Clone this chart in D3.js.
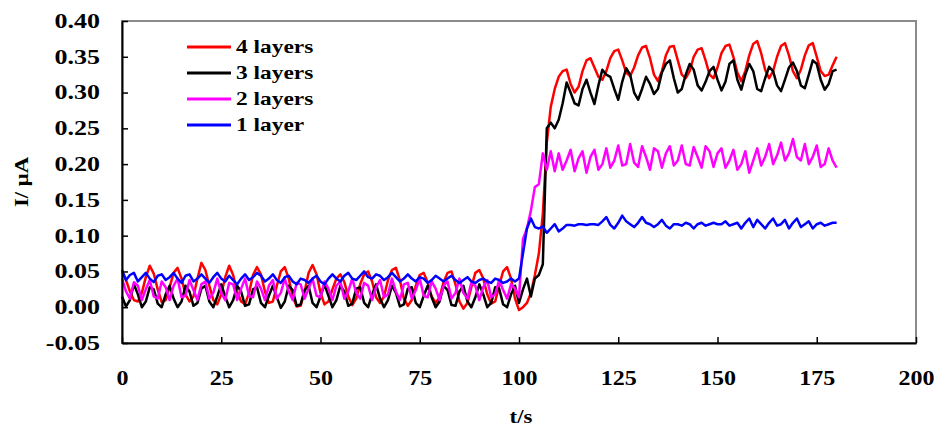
<!DOCTYPE html>
<html lang="en">
<head>
<meta charset="utf-8">
<title>Current vs time, layered films</title>
<script src="https://d3js.org/d3.v7.min.js"></script>
<style>
  body { margin: 0; background: #fff; }
  svg { display: block; }
  .tick text, .lbl { font-family: "Liberation Serif", "Times New Roman", serif; font-weight: bold; fill: #000; }
</style>
</head>
<body>
<svg id="chart" width="938" height="429"></svg>
<script>
// sampling of the traces (s)
const t0 = 0, dt = 1;

// current, uA, one value per second from t = 0 to 180 s
const layers4 = [
  0.050,0.038,0.022,0.010,0.008,0.020,0.042,0.058,0.047,0.025,
  0.007,0.010,0.028,0.048,0.055,0.040,0.018,0.008,0.015,0.040,
  0.062,0.052,0.030,0.010,0.004,0.018,0.042,0.058,0.045,0.022,
  0.008,0.004,0.020,0.045,0.056,0.046,0.022,0.006,0.008,0.030,
  0.050,0.056,0.040,0.015,0.001,0.002,0.022,0.048,0.059,0.046,
  0.020,0.004,0.008,0.025,0.040,0.046,0.035,0.015,0.003,0.012,
  0.032,0.046,0.050,0.036,0.014,0.006,0.015,0.038,0.052,0.055,
  0.038,0.012,0.002,0.010,0.030,0.045,0.048,0.035,0.015,0.006,
  0.014,0.035,0.048,0.050,0.032,0.008,-0.002,0.006,0.028,0.048,
  0.052,0.040,0.018,0.005,0.008,0.030,0.050,0.056,0.040,0.012,
  -0.004,0.000,0.006,0.020,0.045,0.075,0.130,0.230,0.280,0.305,
  0.322,0.330,0.332,0.312,0.300,0.308,0.330,0.345,0.348,0.335,
  0.322,0.318,0.330,0.348,0.358,0.360,0.345,0.328,0.323,0.335,
  0.352,0.363,0.365,0.348,0.325,0.316,0.330,0.352,0.364,0.365,
  0.345,0.325,0.320,0.330,0.350,0.360,0.362,0.345,0.325,0.320,
  0.335,0.355,0.365,0.367,0.350,0.328,0.316,0.330,0.352,0.368,
  0.372,0.355,0.332,0.320,0.330,0.350,0.365,0.369,0.352,0.330,
  0.320,0.332,0.352,0.366,0.369,0.350,0.330,0.323,0.325,0.338,
  0.350
];
const layers3 = [
  0.015,0.001,0.010,0.032,0.018,0.000,0.008,0.028,0.025,0.005,
  0.000,0.018,0.030,0.012,0.000,0.008,0.030,0.022,0.002,0.006,
  0.026,0.030,0.008,0.000,0.015,0.032,0.015,0.000,0.010,0.030,
  0.022,0.002,0.004,0.025,0.028,0.006,0.000,0.016,0.030,0.014,
  -0.001,0.008,0.030,0.024,0.002,0.004,0.024,0.030,0.006,0.000,
  0.015,0.032,0.016,0.000,0.010,0.030,0.022,0.002,0.005,0.026,
  0.028,0.006,0.000,0.018,0.032,0.012,0.000,0.010,0.030,0.020,
  0.001,0.004,0.026,0.028,0.006,0.000,0.016,0.030,0.014,0.000,
  0.008,0.030,0.024,0.003,0.002,0.022,0.030,0.008,0.000,0.014,
  0.032,0.018,0.000,0.006,0.028,0.026,0.004,0.000,0.018,0.030,
  0.006,0.025,0.040,0.015,0.040,0.045,0.060,0.250,0.258,0.250,
  0.262,0.285,0.314,0.300,0.285,0.282,0.305,0.318,0.300,0.284,
  0.310,0.332,0.325,0.322,0.305,0.290,0.315,0.334,0.325,0.300,
  0.290,0.305,0.322,0.312,0.298,0.305,0.328,0.340,0.345,0.320,
  0.300,0.305,0.325,0.340,0.332,0.310,0.303,0.315,0.330,0.336,
  0.318,0.303,0.315,0.340,0.345,0.318,0.304,0.325,0.340,0.330,
  0.305,0.302,0.320,0.336,0.330,0.310,0.302,0.318,0.335,0.342,
  0.330,0.310,0.306,0.325,0.345,0.340,0.318,0.304,0.312,0.330,
  0.332
];
const layers2 = [
  0.040,0.022,0.012,0.035,0.030,0.010,0.025,0.038,0.015,0.012,
  0.036,0.028,0.010,0.030,0.040,0.014,0.016,0.038,0.024,0.010,
  0.032,0.036,0.012,0.020,0.040,0.020,0.010,0.034,0.032,0.010,
  0.026,0.040,0.016,0.014,0.036,0.026,0.010,0.030,0.038,0.012,
  0.020,0.040,0.022,0.010,0.034,0.032,0.012,0.026,0.040,0.016,
  0.014,0.036,0.026,0.010,0.030,0.036,0.012,0.022,0.040,0.020,
  0.012,0.034,0.030,0.010,0.028,0.038,0.014,0.018,0.040,0.022,
  0.010,0.032,0.034,0.012,0.024,0.040,0.016,0.014,0.036,0.026,
  0.010,0.030,0.036,0.012,0.020,0.040,0.020,0.012,0.034,0.030,
  0.010,0.028,0.038,0.014,0.018,0.038,0.024,0.012,0.032,0.026,
  0.014,0.095,0.110,0.135,0.168,0.172,0.215,0.192,0.218,0.190,
  0.215,0.192,0.205,0.220,0.190,0.208,0.218,0.188,0.210,0.220,
  0.192,0.200,0.222,0.195,0.205,0.226,0.198,0.200,0.228,0.202,
  0.196,0.225,0.210,0.192,0.222,0.218,0.195,0.215,0.225,0.198,
  0.205,0.226,0.200,0.198,0.224,0.210,0.195,0.225,0.218,0.196,
  0.215,0.222,0.195,0.205,0.220,0.192,0.200,0.218,0.188,0.205,
  0.222,0.198,0.210,0.228,0.200,0.212,0.230,0.205,0.215,0.235,
  0.210,0.205,0.228,0.200,0.210,0.226,0.196,0.200,0.222,0.205,
  0.195
];
const layers1 = [
  0.052,0.038,0.045,0.048,0.036,0.042,0.048,0.040,0.035,0.044,
  0.046,0.038,0.042,0.048,0.040,0.034,0.044,0.046,0.036,0.040,
  0.046,0.040,0.034,0.042,0.048,0.040,0.036,0.044,0.038,0.032,
  0.040,0.046,0.038,0.042,0.048,0.044,0.036,0.040,0.046,0.038,
  0.034,0.042,0.044,0.036,0.032,0.040,0.038,0.034,0.040,0.044,
  0.036,0.032,0.040,0.046,0.040,0.036,0.044,0.048,0.040,0.038,
  0.044,0.050,0.042,0.040,0.046,0.044,0.038,0.042,0.048,0.042,
  0.036,0.040,0.046,0.040,0.036,0.042,0.040,0.034,0.038,0.044,
  0.040,0.036,0.040,0.044,0.038,0.034,0.038,0.042,0.036,0.034,
  0.038,0.040,0.036,0.034,0.040,0.038,0.034,0.036,0.040,0.036,
  0.040,0.075,0.110,0.124,0.112,0.110,0.113,0.104,0.110,0.116,
  0.106,0.110,0.115,0.115,0.114,0.116,0.116,0.115,0.116,0.116,
  0.115,0.120,0.126,0.115,0.110,0.118,0.128,0.120,0.116,0.112,
  0.118,0.126,0.118,0.116,0.112,0.116,0.122,0.114,0.110,0.116,
  0.116,0.114,0.118,0.116,0.110,0.116,0.118,0.114,0.116,0.118,
  0.116,0.116,0.120,0.114,0.116,0.118,0.110,0.118,0.124,0.112,
  0.122,0.116,0.110,0.118,0.124,0.114,0.116,0.122,0.110,0.118,
  0.124,0.112,0.116,0.120,0.110,0.116,0.118,0.114,0.116,0.118,
  0.118
];

const seriesNames = ["4 layers", "3 layers", "2 layers", "1 layer"];
const seriesColors = ["#ff0000", "#000000", "#ff00ff", "#0000ff"];
const xTicks = [0, 25, 50, 75, 100, 125, 150, 175, 200];
const yTicks = [-0.05, 0, 0.05, 0.10, 0.15, 0.20, 0.25, 0.30, 0.35, 0.40];

const series = [layers4, layers3, layers2, layers1];

// plot box
const boxL = 122, boxR = 916, boxT = 21, boxB = 343;
const sx = 1.2, sxWide = 1.3; // the original type is stretched sideways

const svg = d3.select("#chart");
const x = d3.scaleLinear().domain([0, 200]).range([boxL, boxR]);
const y = d3.scaleLinear().domain([-0.05, 0.40]).range([boxB, boxT]);

// frame
svg.append("rect")
  .attr("x", boxL).attr("y", boxT)
  .attr("width", boxR - boxL).attr("height", boxB - boxT)
  .attr("fill", "none").attr("stroke", "#8a8a8a").attr("stroke-width", 2);

// traces
const line = d3.line()
  .x((d, i) => x(t0 + i * dt))
  .y(d => y(d));

svg.append("g").selectAll("path")
  .data(series)
  .join("path")
  .attr("d", line)
  .attr("fill", "none")
  .attr("stroke", (d, i) => seriesColors[i])
  .attr("stroke-width", 2.5)
  .attr("stroke-linejoin", "round");

// axes
const xAxis = svg.append("g")
  .attr("transform", `translate(0,${boxB})`)
  .call(d3.axisBottom(x).tickValues(xTicks).tickSizeInner(-6).tickSizeOuter(0).tickPadding(28)
    .tickFormat(d => String(d)));

const yAxis = svg.append("g")
  .attr("transform", `translate(${boxL},0)`)
  .call(d3.axisLeft(y).tickValues(yTicks).tickSizeInner(-6).tickSizeOuter(0)
    .tickFormat(d => d.toFixed(2)));

[xAxis, yAxis].forEach(g => {
  g.select(".domain").attr("stroke", "#000").attr("stroke-width", 2);
  g.selectAll(".tick line").attr("stroke", "#000").attr("stroke-width", 1.5);
  g.selectAll(".tick text").attr("font-size", 20);
});
xAxis.selectAll(".tick text").attr("x", 0).attr("transform", `scale(${sx},1)`);
yAxis.selectAll(".tick text").attr("x", 0)
  .attr("text-anchor", "end")
  .attr("transform", `translate(-22,0) scale(${sxWide},1)`);

// axis titles
svg.append("text").attr("class", "lbl")
  .attr("transform", `translate(${(boxL + boxR) / 2 + 2},423) scale(${sx},1)`)
  .attr("text-anchor", "middle").attr("font-size", 19)
  .text("t/s");

svg.append("text").attr("class", "lbl")
  .attr("transform", `translate(28,182) rotate(-90) scale(${sx},1)`)
  .attr("text-anchor", "middle").attr("font-size", 19)
  .text("I/ μA");

// legend
const legend = svg.append("g").attr("transform", "translate(187,47)");
const item = legend.selectAll("g")
  .data(seriesNames)
  .join("g")
  .attr("transform", (d, i) => `translate(0,${i * 26})`);
item.append("line")
  .attr("x1", 0).attr("x2", 44)
  .attr("stroke", (d, i) => seriesColors[i])
  .attr("stroke-width", 3);
item.append("text").attr("class", "lbl")
  .attr("transform", `translate(49,6) scale(${sxWide},1)`)
  .attr("font-size", 18)
  .text(d => d);
</script>
</body>
</html>
